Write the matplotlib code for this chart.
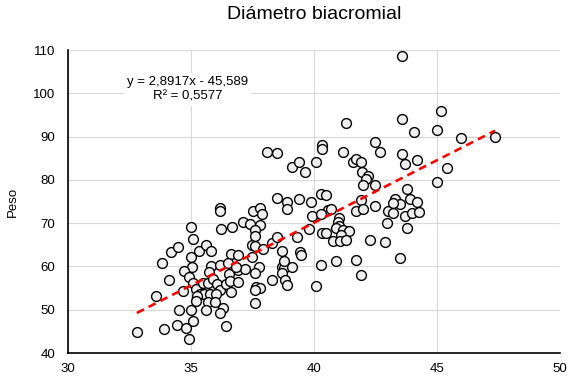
import matplotlib.pyplot as plt

plt.rcParams['font.family'] = ['Liberation Sans', 'DejaVu Sans']

# Diámetro biacromial (cm) y peso (kg) de cada persona
diametro = [
    32.80, 33.58, 33.82, 33.90, 34.11, 34.19, 34.47, 34.43, 34.80, 34.92,
    35.08, 34.51, 35.00, 35.00, 35.08, 35.00, 35.04, 34.72, 35.33, 35.61,
    35.81, 35.81, 36.18, 36.63, 36.91, 36.54, 36.91, 35.73, 34.92, 35.08,
    34.67, 35.20, 35.49, 35.69, 35.89, 36.06, 36.18, 36.42, 36.59, 36.63,
    36.91, 35.37, 35.53, 35.77, 36.02, 35.24, 35.20, 35.69, 35.98, 36.30,
    36.18, 35.61, 36.42, 36.18, 36.18, 36.22, 36.67, 37.48, 37.60, 37.93,
    38.29, 38.70, 39.43, 39.47, 37.48, 37.76, 37.20, 37.60, 37.64, 37.80,
    37.60, 38.29, 38.70, 38.78, 39.11, 38.70, 38.82, 38.90, 38.78, 37.60,
    40.08, 40.28, 37.11, 37.40, 37.80, 37.60, 37.60, 39.31, 39.80, 40.33,
    40.49, 38.50, 36.50, 36.83, 38.09, 38.50, 39.11, 39.39, 39.63, 40.08,
    40.33, 40.33, 38.50, 38.90, 38.90, 39.39, 39.88, 40.28, 40.49, 40.57,
    39.92, 40.28, 37.52, 37.80, 37.89, 41.30, 43.58, 44.07, 41.18, 42.48,
    42.68, 43.58, 43.70, 44.19, 41.59, 41.71, 41.91, 41.95, 42.20, 42.11,
    41.99, 42.48, 43.78, 40.69, 41.91, 41.71, 41.99, 42.48, 43.29, 43.50,
    43.90, 44.19, 43.01, 43.21, 43.70, 43.98, 44.27, 41.02, 40.98, 41.02,
    40.89, 41.18, 41.42, 41.10, 40.77, 41.06, 41.30, 42.28, 42.89, 42.97,
    43.78, 43.50, 40.89, 41.71, 41.91, 43.58, 45.16, 45.00, 45.98, 47.36,
    45.41, 45.00, 43.21,
]
peso = [
    44.9, 53.2, 60.8, 45.6, 56.9, 63.3, 64.5, 46.5, 45.8, 43.3,
    47.4, 50.0, 50.0, 69.1, 66.4, 62.2, 59.9, 59.0, 63.6, 65.0,
    63.6, 60.1, 60.3, 62.9, 62.7, 58.3, 59.2, 58.7, 57.6, 56.2,
    54.3, 54.8, 56.2, 56.2, 57.1, 56.0, 54.6, 56.0, 56.7, 54.1,
    56.4, 53.6, 53.6, 53.6, 53.6, 53.2, 52.0, 51.8, 51.8, 50.4,
    49.3, 50.0, 46.3, 73.5, 72.8, 68.7, 69.1, 65.0, 64.7, 64.0,
    65.4, 63.6, 63.3, 62.7, 62.2, 59.9, 59.4, 58.5, 55.3, 55.0,
    54.6, 56.9, 59.9, 59.7, 59.9, 58.5, 56.9, 55.7, 61.3, 51.6,
    55.5, 60.3, 70.3, 69.8, 69.6, 68.4, 67.0, 66.8, 68.7, 67.7,
    67.7, 66.8, 60.8, 59.9, 86.4, 86.2, 83.0, 84.1, 81.8, 84.1,
    88.1, 87.1, 75.8, 74.9, 73.3, 75.6, 74.9, 76.7, 76.5, 73.0,
    71.7, 72.1, 72.8, 73.5, 72.1, 93.1, 94.1, 91.1, 86.4, 88.8,
    86.4, 86.0, 83.7, 84.6, 84.1, 84.8, 84.1, 81.8, 80.9, 80.2,
    78.8, 78.8, 77.9, 73.3, 75.4, 72.8, 73.3, 74.0, 75.6, 74.4,
    75.6, 74.9, 72.8, 72.4, 71.7, 72.4, 72.6, 71.2, 70.3, 69.4,
    68.9, 68.4, 68.2, 67.3, 65.9, 65.9, 66.1, 66.1, 65.7, 70.0,
    68.9, 62.0, 61.3, 61.5, 58.0, 108.6, 95.9, 91.5, 89.7, 89.9,
    82.7, 79.5, 74.7,
]

# Línea de tendencia lineal
pendiente = 2.8917
intercepto = -45.589
r2 = 0.5577

fig = plt.figure(figsize=(5.68, 3.82), dpi=100)
ax = fig.add_axes([0.1197, 0.0759, 0.8662, 0.7931])

ax.scatter(diametro, peso, s=50, facecolor='#efefef', edgecolor='black',
           linewidth=1.0, zorder=3)

x0, x1 = min(diametro), max(diametro)
ax.plot([x0, x1], [pendiente * x0 + intercepto, pendiente * x1 + intercepto],
        color='#ff0000', lw=1.9, ls=(0, (3, 2)), zorder=4)

ecuacion = f"y = {pendiente:.4f}x - {abs(intercepto):.3f}".replace('.', ',')
ax.text(34.85, 100.9, ecuacion + "\nR² = " + f"{r2:.4f}".replace('.', ','),
        ha='center', va='center', fontsize=9.5, linespacing=1.3, zorder=5,
        bbox=dict(facecolor='white', edgecolor='none', pad=2))

ax.set_xlim(30, 50)
ax.set_ylim(40, 110)
ax.set_xticks(range(30, 51, 5))
ax.set_yticks(range(40, 111, 10))
ax.grid(True, color='#d9d9d9', lw=0.8, zorder=0)
ax.set_axisbelow(True)

for s in ['top', 'right']:
    ax.spines[s].set_visible(False)
for s in ['left', 'bottom']:
    ax.spines[s].set_color('black')
    ax.spines[s].set_linewidth(1.2)

ax.tick_params(length=0, labelsize=9.5, labelcolor='black')
ax.tick_params(axis='y', pad=9)
ax.tick_params(axis='x', pad=7)

ax.set_ylabel('Peso', fontsize=9.5, labelpad=10)
ax.set_title('Diámetro biacromial', fontsize=14, pad=22)

fig.savefig('out.png', dpi=100)
